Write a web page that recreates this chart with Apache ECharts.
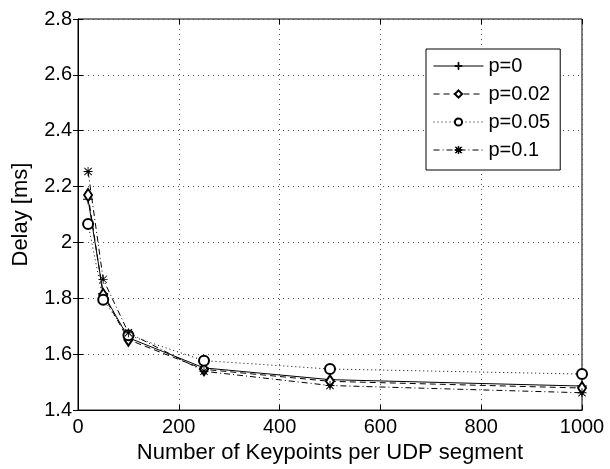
<!DOCTYPE html>
<html>
<head>
<meta charset="utf-8">
<script src="https://cdn.jsdelivr.net/npm/echarts/dist/echarts.min.js"></script>
<style>
  html, body { margin: 0; padding: 0; background: #fff; }
  #chart { width: 610px; height: 469px; }
</style>
</head>
<body>
<div id="chart"></div>
<script>
// keypoints per UDP segment
const xValues = [20, 50, 100, 250, 500, 1000];
// delay [ms] for each loss probability
const delayP0 = [2.155, 1.817, 1.659, 1.551, 1.509, 1.486];
const delayP002 = [2.17, 1.812, 1.652, 1.546, 1.503, 1.479];
const delayP005 = [2.066, 1.795, 1.668, 1.577, 1.547, 1.529];
const delayP01 = [2.254, 1.868, 1.677, 1.539, 1.488, 1.462];
const seriesNames = ['p=0', 'p=0.02', 'p=0.05', 'p=0.1'];

const plusPath = 'path://M4.5,0H5.5V4.5H10V5.5H5.5V10H4.5V5.5H0V4.5H4.5Z';
const starPath = 'path://M4.5,0H5.5V10H4.5Z M0,4.5H10V5.5H0Z ' +
  'M0.6,1.3L1.3,0.6L9.4,8.7L8.7,9.4Z M8.7,0.6L9.4,1.3L1.3,9.4L0.6,8.7Z';

const font = 'Liberation Sans, Arial, Helvetica, sans-serif';

function pairs(ys) {
  return xValues.map((x, i) => [x, ys[i]]);
}

function makeSeries(name, ys, symbol, size, dash, border) {
  return {
    name: name,
    type: 'line',
    data: pairs(ys),
    symbol: symbol,
    symbolSize: size,
    showSymbol: true,
    lineStyle: { color: '#000', width: 1, type: dash },
    itemStyle: { color: '#000', borderColor: '#000', borderWidth: border },
    emphasis: { disabled: true }
  };
}

const chart = echarts.init(document.getElementById('chart'));
chart.setOption({
  animation: false,
  backgroundColor: '#fff',
  textStyle: { fontFamily: font },
  grid: {
    left: 78, right: 28, top: 19, bottom: 53,
    show: true, borderColor: '#000', borderWidth: 1
  },
  legend: {
    orient: 'vertical',
    left: 426, top: 49,
    padding: [7, 10, 10, 7],
    itemGap: 8,
    itemWidth: 50,
    itemHeight: 9,
    backgroundColor: '#fff',
    borderColor: '#000',
    borderWidth: 1,
    itemStyle: { borderWidth: 1 },
    lineStyle: { width: 1 },
    textStyle: { fontSize: 20, color: '#000', fontFamily: font },
    data: seriesNames
  },
  xAxis: [{
    type: 'value',
    min: 0, max: 1000, interval: 200,
    name: 'Number of Keypoints per UDP segment',
    nameLocation: 'middle',
    nameGap: 29,
    nameTextStyle: { fontSize: 22, color: '#000', fontFamily: font },
    axisLine: { show: true, lineStyle: { color: '#000', width: 1 } },
    axisTick: { inside: true, length: 5, lineStyle: { color: '#000' } },
    axisLabel: { fontSize: 20, color: '#000', margin: 7, fontFamily: font,
      formatter: v => String(v) },
    splitLine: { show: true, lineStyle: { color: '#555', type: [1, 4], width: 1 } }
  }, {
    type: 'value', position: 'top',
    min: 0, max: 1000, interval: 200,
    axisLine: { show: false },
    axisTick: { inside: true, length: 5, lineStyle: { color: '#000' } },
    axisLabel: { show: false },
    splitLine: { show: false }
  }],
  yAxis: [{
    type: 'value',
    min: 1.4, max: 2.8, interval: 0.2,
    name: 'Delay [ms]',
    nameLocation: 'middle',
    nameGap: 46,
    nameTextStyle: { fontSize: 22, color: '#000', fontFamily: font },
    axisLine: { show: true, lineStyle: { color: '#000', width: 1 } },
    axisTick: { show: true, inside: true, length: 5, lineStyle: { color: '#000' } },
    axisLabel: { fontSize: 20, color: '#000', margin: 6, fontFamily: font },
    splitLine: { show: true, lineStyle: { color: '#555', type: [1, 4], width: 1 } }
  }, {
    type: 'value', position: 'right',
    min: 1.4, max: 2.8, interval: 0.2,
    axisLine: { show: false },
    axisTick: { show: true, inside: true, length: 5, lineStyle: { color: '#000' } },
    axisLabel: { show: false },
    splitLine: { show: false }
  }],
  series: [
    makeSeries(seriesNames[0], delayP0, plusPath, 10, 'solid', 0),
    makeSeries(seriesNames[1], delayP002, 'emptyDiamond', [8, 12], [6, 4], 1),
    makeSeries(seriesNames[2], delayP005, 'emptyCircle', 10, [1, 3], 1),
    makeSeries(seriesNames[3], delayP01, starPath, 9, [6, 3, 1, 3], 0)
  ]
});
</script>
</body>
</html>
